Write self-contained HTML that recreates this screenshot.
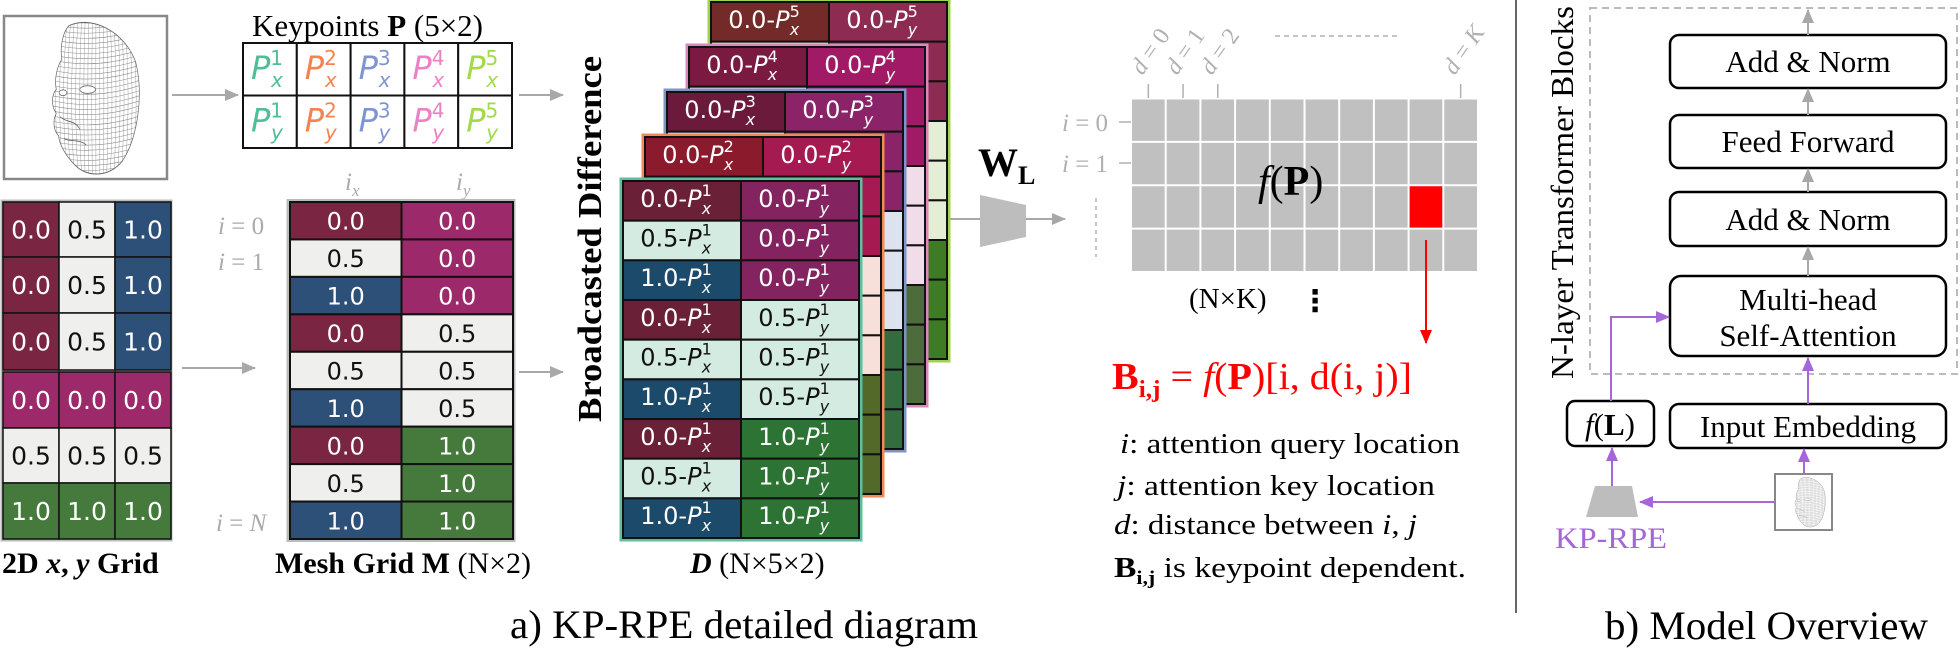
<!DOCTYPE html>
<html><head><meta charset="utf-8"><style>
html,body{margin:0;padding:0;background:#fff;}
svg{display:block;}
.serif{font-family:"Liberation Serif",serif;}
.sans{font-family:"DejaVu Sans","Liberation Sans",sans-serif;}
</style></head><body>
<svg id="fig" width="1960" height="649" viewBox="0 0 1960 649" xmlns="http://www.w3.org/2000/svg">
<defs>
<marker id="ar" markerWidth="14" markerHeight="12" refX="13" refY="6" orient="auto" markerUnits="userSpaceOnUse"><path d="M0,0 L14,6 L0,12 Z" fill="#ff0000"/></marker>
<marker id="ap" markerWidth="14" markerHeight="12" refX="13" refY="6" orient="auto" markerUnits="userSpaceOnUse"><path d="M0,0 L14,6 L0,12 Z" fill="#a466d8"/></marker>
<marker id="ag2" markerWidth="14" markerHeight="12" refX="13" refY="6" orient="auto" markerUnits="userSpaceOnUse"><path d="M0,0 L14,6 L0,12 Z" fill="#a8a8a8"/></marker>
<clipPath id="faceclip"><path d="M30,5 C50,-2 80,8 90,28 C97,48 92,75 78,90 C65,101 45,100 35,92 C27,86 22,80 21,74 C16,70 16,64 19,60 C14,55 15,48 19,45 C17,38 20,30 24,26 C22,18 25,9 30,5 Z"/></clipPath>
<g id="face"><g id="facegrid" clip-path="url(#faceclip)"></g>
<path d="M30,5 C50,-2 80,8 90,28 C97,48 92,75 78,90 C65,101 45,100 35,92 C27,86 22,80 21,74 C16,70 16,64 19,60 C14,55 15,48 19,45 C17,38 20,30 24,26 C22,18 25,9 30,5 Z" fill="none" stroke="#666" stroke-width="0.6"/>
<ellipse cx="47" cy="45" rx="7" ry="2.4" fill="#fff" stroke="#555" stroke-width="0.5"/>
<ellipse cx="25" cy="47" rx="3.5" ry="1.8" fill="#fff" stroke="#555" stroke-width="0.5"/>
<path d="M22,62 C28,66 36,64 40,70 M26,76 C32,78 40,76 46,80" fill="none" stroke="#555" stroke-width="0.5"/>
</g>
</defs>

<g>
<rect x="4" y="16" width="163" height="163" fill="#fff" stroke="#888" stroke-width="2.5"/>
<use href="#face" transform="translate(35,18) scale(1.12,1.59)"/>
</g>
<line x1="172" y1="95" x2="238" y2="95" stroke="#a8a8a8" stroke-width="2" marker-end="url(#ag2)"/>

<text class="serif" x="252" y="36" font-size="31">Keypoints <tspan font-weight="bold">P</tspan> (5×2)</text>
<g id="kptable"></g>

<g id="grid2d"></g>
<text class="serif" x="2" y="573" font-size="30" font-weight="bold">2D <tspan font-style="italic">x</tspan>, <tspan font-style="italic">y</tspan> Grid</text>
<line x1="182" y1="368" x2="255" y2="368" stroke="#a8a8a8" stroke-width="2" marker-end="url(#ag2)"/>

<g id="mesh"></g>
<g class="serif" fill="#aaa" font-style="italic" font-size="25">
<text x="345" y="190">i<tspan font-size="17" dy="6">x</tspan></text>
<text x="456" y="190">i<tspan font-size="17" dy="6">y</tspan></text>
<text x="218" y="234">i <tspan font-style="normal">=</tspan> <tspan font-style="normal">0</tspan></text>
<text x="218" y="270">i <tspan font-style="normal">=</tspan> <tspan font-style="normal">1</tspan></text>
<text x="216" y="531">i <tspan font-style="normal">=</tspan> N</text>
</g>
<text class="serif" x="275" y="573" font-size="30"><tspan font-weight="bold">Mesh Grid M</tspan>  (N×2)</text>

<line x1="519" y1="95" x2="563" y2="95" stroke="#a8a8a8" stroke-width="2" marker-end="url(#ag2)"/>
<line x1="519" y1="372" x2="563" y2="372" stroke="#a8a8a8" stroke-width="2" marker-end="url(#ag2)"/>
<text class="serif" font-weight="bold" font-size="34" transform="translate(601,422) rotate(-90)" textLength="366" lengthAdjust="spacingAndGlyphs">Broadcasted Difference</text>

<g id="dstack"></g>
<text class="serif" x="690" y="573" font-size="30"><tspan font-weight="bold" font-style="italic">D</tspan>  (N×5×2)</text>

<text class="serif" x="978" y="176" font-size="40" font-weight="bold">W<tspan font-size="26" dy="8">L</tspan></text>
<line x1="950" y1="219" x2="980" y2="219" stroke="#a8a8a8" stroke-width="2"/>
<polygon points="980,195 1026,205 1026,237 980,247" fill="#bdbdbd"/>
<line x1="1026" y1="219" x2="1065" y2="219" stroke="#a8a8a8" stroke-width="2" marker-end="url(#ag2)"/>

<g id="fpgrid"></g>
<g class="serif" fill="#b0b0b0" font-size="25">
<text x="1062" y="131"><tspan font-style="italic">i</tspan> = 0</text>
<text x="1062" y="172"><tspan font-style="italic">i</tspan> = 1</text>
</g>
<line x1="1119" y1="122" x2="1131" y2="122" stroke="#b0b0b0" stroke-width="1.5"/>
<line x1="1119" y1="163" x2="1131" y2="163" stroke="#b0b0b0" stroke-width="1.5"/>
<line x1="1096" y1="198" x2="1096" y2="257" stroke="#b0b0b0" stroke-width="1.5" stroke-dasharray="4,4"/>
<line x1="1275" y1="36" x2="1400" y2="36" stroke="#b0b0b0" stroke-width="1.5" stroke-dasharray="5,4"/>
<g id="dlabels"></g>
<text class="serif" x="1258" y="195" font-size="42"><tspan font-style="italic">f</tspan>(<tspan font-weight="bold">P</tspan>)</text>
<text class="serif" x="1189" y="308" font-size="29">(N×K)</text>
<text class="sans" x="1300" y="311" font-size="30" font-weight="bold">⋮</text>
<line x1="1426" y1="240" x2="1426" y2="343" stroke="#ff0000" stroke-width="2" marker-end="url(#ar)"/>
<text class="serif" x="1112" y="389" font-size="38" fill="#ff0000" textLength="300" lengthAdjust="spacingAndGlyphs"><tspan font-weight="bold">B</tspan><tspan font-weight="bold" font-size="24" dy="8">i,j</tspan><tspan dy="-8"> = </tspan><tspan font-style="italic">f</tspan>(<tspan font-weight="bold">P</tspan>)[i, d(i, j)]</text>
<g class="serif" font-size="29">
<text x="1120" y="453" textLength="340" lengthAdjust="spacingAndGlyphs"><tspan font-style="italic">i</tspan>: attention query location</text>
<text x="1117" y="495" textLength="318" lengthAdjust="spacingAndGlyphs"><tspan font-style="italic">j</tspan>: attention key location</text>
<text x="1114" y="534" textLength="303" lengthAdjust="spacingAndGlyphs"><tspan font-style="italic">d</tspan>: distance between <tspan font-style="italic">i</tspan>, <tspan font-style="italic">j</tspan></text>
<text x="1114" y="577" textLength="352" lengthAdjust="spacingAndGlyphs"><tspan font-weight="bold">B</tspan><tspan font-weight="bold" font-size="19" dy="7">i,j</tspan><tspan dy="-7"> is keypoint dependent.</tspan></text>
</g>
<text class="serif" x="510" y="638" font-size="40" textLength="468" lengthAdjust="spacingAndGlyphs">a) KP-RPE detailed diagram</text>

<line x1="1516" y1="0" x2="1516" y2="613" stroke="#666" stroke-width="2"/>

<rect x="1590" y="8" width="367" height="366" fill="none" stroke="#bbb" stroke-width="2" stroke-dasharray="7,5"/>
<text class="serif" font-size="32" transform="translate(1573,379) rotate(-90)" textLength="373" lengthAdjust="spacingAndGlyphs">N-layer Transformer Blocks</text>
<g class="serif" font-size="31" text-anchor="middle">
<rect x="1670" y="35" width="276" height="53" rx="9" fill="#fff" stroke="#000" stroke-width="2.5"/>
<text x="1808" y="72">Add &amp; Norm</text>
<rect x="1670" y="115" width="276" height="53" rx="9" fill="#fff" stroke="#000" stroke-width="2.5"/>
<text x="1808" y="152">Feed Forward</text>
<rect x="1670" y="192" width="276" height="54" rx="9" fill="#fff" stroke="#000" stroke-width="2.5"/>
<text x="1808" y="230">Add &amp; Norm</text>
<rect x="1670" y="276" width="276" height="80" rx="11" fill="#fff" stroke="#000" stroke-width="2.5"/>
<text x="1808" y="310">Multi-head</text>
<text x="1808" y="346">Self-Attention</text>
<rect x="1670" y="404" width="276" height="44" rx="9" fill="#fff" stroke="#000" stroke-width="2.5"/>
<text x="1808" y="437">Input Embedding</text>
<rect x="1567" y="401" width="87" height="45" rx="8" fill="#fff" stroke="#000" stroke-width="2.5"/>
<text x="1610" y="435"><tspan font-style="italic">f</tspan>(<tspan font-weight="bold">L</tspan>)</text>
</g>
<g stroke="#a8a8a8" stroke-width="2">
<line x1="1808" y1="35" x2="1808" y2="10" marker-end="url(#ag2)"/>
<line x1="1808" y1="115" x2="1808" y2="89" marker-end="url(#ag2)"/>
<line x1="1808" y1="192" x2="1808" y2="169" marker-end="url(#ag2)"/>
<line x1="1808" y1="276" x2="1808" y2="247" marker-end="url(#ag2)"/>
</g>
<g stroke="#a466d8" stroke-width="2" fill="none">
<line x1="1808" y1="404" x2="1808" y2="358" marker-end="url(#ap)"/>
<polyline points="1611,401 1611,317 1669,317" marker-end="url(#ap)"/>
<line x1="1804" y1="474" x2="1804" y2="449" marker-end="url(#ap)"/>
<line x1="1775" y1="502" x2="1640" y2="502" marker-end="url(#ap)"/>
<line x1="1612" y1="486" x2="1612" y2="448" marker-end="url(#ap)"/>
</g>
<polygon points="1595,486 1632,486 1638,517 1586,517" fill="#bdbdbd"/>
<g>
<rect x="1775" y="474" width="57" height="56" fill="#fff" stroke="#888" stroke-width="2"/>
<use href="#face" transform="translate(1789,476) scale(0.39,0.52)"/>
</g>
<text class="serif" x="1555" y="548" font-size="30" fill="#a466d8" textLength="112" lengthAdjust="spacingAndGlyphs">KP-RPE</text>
<text class="serif" x="1605" y="639" font-size="40" textLength="323" lengthAdjust="spacingAndGlyphs">b) Model Overview</text>
</svg>
<script>
var NS="http://www.w3.org/2000/svg";
function mk(tag,attrs,parent){var e=document.createElementNS(NS,tag);for(var k in attrs)e.setAttribute(k,attrs[k]);if(parent)parent.appendChild(e);return e;}

var kpColors=['#4dbf96','#f5834f','#7f95d1','#ec82c6','#a2d94d'];
var kpIdx=['1','2','3','4','5'];
var kpAxes=['x','y'];
var gridTopVals=['0.0','0.5','1.0'];
var gridBotVals=['0.0','0.5','1.0'];
var meshX=['0.0','0.5','1.0','0.0','0.5','1.0','0.0','0.5','1.0'];
var meshY=['0.0','0.0','0.0','0.5','0.5','0.5','1.0','1.0','1.0'];
var layerIdx=['5','4','3','2','1'];
var layerBorders=['#9fd24e','#d987bd','#7f95c6','#f08a5a','#5dbf9f'];
var layerXCol=[['#732a29','#e4eed5','#3f7a25'],['#7a1a40','#f1dde9','#4e6b3b'],['#6b1a3b','#dde3ee','#356c3f'],['#8b1b2c','#f5e0d8','#52692a'],['#6a2138','#d4ebe2','#1b4a6b']];
var layerYCol=[['#8e2b52','#e4eed5','#3f7a25'],['#a11a66','#f1dde9','#4e6b3b'],['#8a2367','#dde3ee','#356c3f'],['#a51a50','#f6e0d9','#52692a'],['#832461','#d4ebe2','#2d7334']];
var dXvals=['0.0','0.5','1.0','0.0','0.5','1.0','0.0','0.5','1.0'];
var dYvals=['0.0','0.0','0.0','0.5','0.5','0.5','1.0','1.0','1.0'];
var fpCols=['0','1','2','3','4','5','6','7','8','K'];
var fpRows=['0','1','2','3'];
var highlightRow=2, highlightCol=8;
var dTickCols=[0,1,2,9];
var dTickLabels=['0','1','2','K'];

(function(){var g=document.getElementById('facegrid');
for(var x=16;x<=96;x+=3.2){mk('path',{d:'M'+x+',0 Q'+(x+(x-55)*0.25)+',50 '+x+',100',stroke:'#8a8a8a','stroke-width':0.35,fill:'none'},g);}
for(var y=0;y<=100;y+=3.2){mk('path',{d:'M10,'+y+' Q55,'+(y+8)+' 100,'+(y-4),stroke:'#8a8a8a','stroke-width':0.35,fill:'none'},g);}
})();

(function(){var g=document.getElementById('kptable');var x0=243,y0=43,cw=53.8,rh=52.5;
for(var r=0;r<2;r++)for(var c=0;c<5;c++){
 var rc=mk('rect',{x:x0+c*cw,y:y0+r*rh,width:cw,height:rh,fill:'#fff',stroke:'#111','stroke-width':2},g);
 
 
 var t=mk('text',{x:x0+c*cw+8,y:y0+r*rh+36,fill:kpColors[c],'font-size':32,'font-style':'italic','class':'sans'},g);
 
 
 t.innerHTML='P<tspan font-style="normal" font-size="20" dy="-14">'+kpIdx[c]+'</tspan><tspan font-size="20" dx="-12" dy="22">'+kpAxes[r]+'</tspan>';
}})();

var C={maroon:'#7a2542',light:'#efefed',blue:'#2d5078',mag:'#9c2a6a',green:'#467a3c'};
(function(){var g=document.getElementById('grid2d');var x0=3,cw=56;
var topCols=[C.maroon,C.light,C.blue];var botRows=[C.mag,C.light,C.green];
var topY=[202,257,313,370],botY=[372,428,483,539];
mk('rect',{x:2,y:201,width:169,height:170,fill:'none',stroke:'#bbb','stroke-width':3},g);
mk('rect',{x:2,y:371,width:169,height:169,fill:'none',stroke:'#bbb','stroke-width':3},g);
for(var r=0;r<3;r++)for(var c=0;c<3;c++){
 var f=topCols[c];var rc=mk('rect',{x:x0+c*cw,y:topY[r],width:cw,height:topY[r+1]-topY[r],fill:f,stroke:'#111','stroke-width':1.5},g);
 
 
 var t=mk('text',{x:x0+c*cw+cw/2,y:(topY[r]+topY[r+1])/2+9,'text-anchor':'middle','font-size':25,fill:f==C.light?'#111':'#fff','class':'sans'},g);t.textContent=gridTopVals[c];
 var f2=botRows[r];var rc2=mk('rect',{x:x0+c*cw,y:botY[r],width:cw,height:botY[r+1]-botY[r],fill:f2,stroke:'#111','stroke-width':1.5},g);
 
 
 var t2=mk('text',{x:x0+c*cw+cw/2,y:(botY[r]+botY[r+1])/2+9,'text-anchor':'middle','font-size':25,fill:f2==C.light?'#111':'#fff','class':'sans'},g);t2.textContent=gridBotVals[r];
}})();

(function(){var g=document.getElementById('mesh');var x0=290,cw=111.5,y0=202,rh=(539-202)/9;
mk('rect',{x:288,y:200.5,width:226,height:340,fill:'none',stroke:'#bbb','stroke-width':3},g);
var xc={'0.0':C.maroon,'0.5':C.light,'1.0':C.blue};var yc={'0.0':C.mag,'0.5':C.light,'1.0':C.green};
for(var r=0;r<9;r++){var vals=[meshX[r],meshY[r]];var cols=[xc[meshX[r]],yc[meshY[r]]];
 for(var c=0;c<2;c++){var rc=mk('rect',{x:x0+c*cw,y:y0+r*rh,width:cw,height:rh,fill:cols[c],stroke:'#111','stroke-width':2},g);
 
 
 var t=mk('text',{x:x0+c*cw+cw/2,y:y0+r*rh+rh/2+9,'text-anchor':'middle','font-size':24,fill:cols[c]==C.light?'#111':'#fff','class':'sans'},g);t.textContent=vals[c];}
}})();

(function(){var g=document.getElementById('dstack');
var lx=[709,687,665,643,621],ly=[0,45,90,135,179];var W=240,H=361,rh=(H-4)/9,cw=(W-4)/2;
var xi={'0.0':0,'0.5':1,'1.0':2};
for(var L=0;L<5;L++){var lg=mk('g',{},g);
 
 
 mk('rect',{x:lx[L],y:ly[L],width:W,height:H,fill:'#fff',stroke:layerBorders[L],'stroke-width':3},lg);
 for(var r=0;r<9;r++){var lvl=[dXvals[r],dYvals[r]];
  var fills=[layerXCol[L][xi[dXvals[r]]],layerYCol[L][xi[dYvals[r]]]];
  for(var c=0;c<2;c++){var cx=lx[L]+2+c*cw,cy=ly[L]+2+r*rh;
   var rc=mk('rect',{x:cx,y:cy,width:cw,height:rh,fill:fills[c],stroke:'#111','stroke-width':2},lg);
   
   
   var light=(lvl[c]=='0.5');
   var t=mk('text',{x:cx+cw/2-6,y:cy+rh/2+6,'text-anchor':'middle','font-size':24,fill:light?'#111':'#fff','class':'sans'},lg);
   t.innerHTML=lvl[c]+'-<tspan font-style="italic">P</tspan><tspan font-size="16" dy="-11">'+layerIdx[L]+'</tspan><tspan font-size="16" font-style="italic" dx="-10" dy="18">'+(c==0?'x':'y')+'</tspan>';
  }}
}})();

(function(){var g=document.getElementById('fpgrid');var x0=1131,x1=1478,y0=98.5,y1=272;
var cw=(x1-x0)/fpCols.length,rh=(y1-y0)/fpRows.length;
for(var r=0;r<fpRows.length;r++)for(var c=0;c<fpCols.length;c++){
 var hi=(r==highlightRow&&c==highlightCol);
 var rc=mk('rect',{x:x0+c*cw+1,y:y0+r*rh+1,width:cw-2,height:rh-2,fill:hi?'#ff0000':'#c0c0c0'},g);
 
 
}
var dl=document.getElementById('dlabels');
for(var i=0;i<dTickCols.length;i++){var tx=x0+dTickCols[i]*cw+cw/2;
 mk('line',{x1:tx,y1:84,x2:tx,y2:98,stroke:'#b0b0b0','stroke-width':1.5},dl);
 var t=mk('text',{transform:'translate('+(tx-6)+',76) rotate(-55)','font-size':24,fill:'#b0b0b0','class':'serif'},dl);
 
 
 t.innerHTML='<tspan font-style="italic">d</tspan> = '+(dTickLabels[i]=='K'?'<tspan font-style="italic">K</tspan>':dTickLabels[i]);
}
})();
</script>
</body></html>
